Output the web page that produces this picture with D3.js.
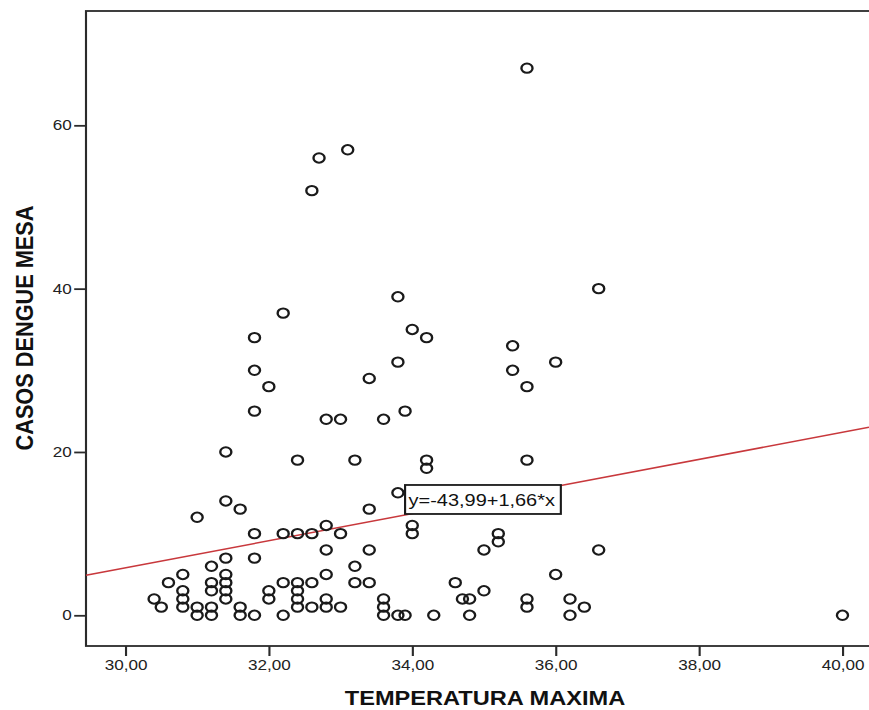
<!DOCTYPE html>
<html>
<head>
<meta charset="utf-8">
<script src="https://cdn.jsdelivr.net/npm/d3@7"></script>
<style>
  body { margin: 0; background: #fff; }
  text { font-family: "Liberation Sans", Arial, sans-serif; }
</style>
</head>
<body>
<div id="plot-box"></div>
<script>
// data (temperature max, dengue cases per month)
const temperatura = [
  30.4, 30.5, 30.6,
  30.8, 30.8, 30.8, 30.8,
  31.0, 31.0, 31.0,
  31.2, 31.2, 31.2, 31.2, 31.2,
  31.4, 31.4, 31.4, 31.4, 31.4, 31.4, 31.4,
  31.6, 31.6, 31.6,
  31.8, 31.8, 31.8, 31.8, 31.8, 31.8,
  32.0, 32.0, 32.0,
  32.2, 32.2, 32.2, 32.2,
  32.4, 32.4, 32.4, 32.4, 32.4, 32.4,
  32.6, 32.6, 32.6, 32.6,
  32.7,
  32.8, 32.8, 32.8, 32.8, 32.8, 32.8,
  33.0, 33.0, 33.0,
  33.1,
  33.2, 33.2, 33.2,
  33.4, 33.4, 33.4, 33.4,
  33.6, 33.6, 33.6, 33.6,
  33.8, 33.8, 33.8, 33.8,
  33.9, 33.9,
  34.0, 34.0, 34.0,
  34.2, 34.2, 34.2,
  34.3, 34.6, 34.7,
  34.8, 34.8,
  35.0, 35.0,
  35.2, 35.2,
  35.4, 35.4,
  35.6, 35.6, 35.6, 35.6, 35.6,
  36.0, 36.0,
  36.2, 36.2,
  36.4,
  36.6, 36.6,
  40.0
];
const casos = [
  2, 1, 4,
  5, 3, 2, 1,
  12, 1, 0,
  6, 4, 3, 1, 0,
  20, 14, 7, 5, 4, 3, 2,
  13, 1, 0,
  34, 30, 25, 10, 7, 0,
  28, 3, 2,
  37, 10, 4, 0,
  19, 10, 4, 3, 2, 1,
  52, 10, 4, 1,
  56,
  24, 11, 8, 5, 2, 1,
  24, 10, 1,
  57,
  19, 6, 4,
  29, 13, 8, 4,
  24, 2, 1, 0,
  39, 31, 15, 0,
  25, 0,
  35, 11, 10,
  34, 19, 18,
  0, 4, 2,
  2, 0,
  8, 3,
  10, 9,
  33, 30,
  67, 28, 19, 2, 1,
  31, 5,
  2, 0,
  1,
  40, 8,
  0
];
const xTicks = [30, 32, 34, 36, 38, 40];
const yTicks = [0, 20, 40, 60];
const intercept = -43.99, slope = 1.66;
const fitLabel = "y=-43,99+1,66*x";
const xTitle = "TEMPERATURA MAXIMA";
const yTitle = "CASOS DENGUE MESA";

const W = 869, H = 710;
const sx = 1.18; // the picture is stretched sideways
const frame = {left: 86 / sx, top: 11, bottom: 646, right: 880 / sx};

const svgRoot = d3.select("#plot-box").append("svg")
  .attr("width", W).attr("height", H);
const svg = svgRoot.append("g").attr("transform", `scale(${sx},1)`);

const x = d3.scaleLinear().domain([29.45, 40.37]).range([frame.left, W / sx]);
const y = d3.scaleLinear().domain([-3.76, 74]).range([frame.bottom, frame.top]);

const es = d3.formatLocale({decimal: ",", thousands: ".", grouping: [3], currency: ["", ""]});
const fmt = es.format(".2f");

// frame
svg.append("rect")
  .attr("x", frame.left).attr("y", frame.top)
  .attr("width", frame.right - frame.left).attr("height", frame.bottom - frame.top)
  .attr("fill", "none").attr("stroke", "#2b2b2b").attr("stroke-width", 1.8);

// axes
const gx = svg.append("g")
  .attr("transform", `translate(0,${frame.bottom})`)
  .call(d3.axisBottom(x).tickValues(xTicks).tickFormat(fmt).tickSize(10).tickPadding(4));
const gy = svg.append("g")
  .attr("transform", `translate(${frame.left},0)`)
  .call(d3.axisLeft(y).tickValues(yTicks).tickSize(10).tickPadding(2));
[gx, gy].forEach(g => {
  g.select(".domain").remove();
  g.selectAll(".tick line").attr("stroke", "#2b2b2b").attr("stroke-width", 1.8);
  g.selectAll(".tick text").attr("fill", "#222").style("font-size", "14.5px")
    .style("font-family", "'Liberation Sans', Arial, sans-serif");
});

// regression line
const fit = v => intercept + slope * v;
const xd = x.domain();
svg.append("line")
  .attr("x1", x(xd[0])).attr("y1", y(fit(xd[0])))
  .attr("x2", x(xd[1])).attr("y2", y(fit(xd[1])))
  .attr("stroke", "#c8383c").attr("stroke-width", 1.5);

// points
const points = temperatura.map((t, i) => ({t, c: casos[i]}));
svg.append("g").selectAll("circle")
  .data(points)
  .enter().append("circle")
  .attr("cx", d => x(d.t))
  .attr("cy", d => y(d.c))
  .attr("r", 4.7)
  .attr("fill", "none")
  .attr("stroke", "#1a1a1a")
  .attr("stroke-width", 2);

// equation label anchored on the fit line
const lx = 33.9;
const lab = svg.append("g")
  .attr("transform", `translate(${x(lx)},${y(fit(lx)) - 1})`);
lab.append("rect")
  .attr("x", 0).attr("y", -29).attr("width", 132).attr("height", 29)
  .attr("fill", "#fff").attr("stroke", "#1a1a1a").attr("stroke-width", 1.8);
lab.append("text")
  .attr("x", 3).attr("y", -8)
  .attr("textLength", 124).attr("lengthAdjust", "spacingAndGlyphs")
  .style("font-size", "16px").attr("fill", "#111")
  .text(fitLabel);

// axis titles
svg.append("text")
  .attr("x", 485 / sx).attr("y", 705)
  .attr("text-anchor", "middle")
  .style("font-size", "20px").style("font-weight", "bold").attr("fill", "#111")
  .text(xTitle);
svg.append("text")
  .attr("transform", `translate(${33 / sx},${328})rotate(-90)`)
  .attr("text-anchor", "middle")
  .attr("textLength", 245).attr("lengthAdjust", "spacingAndGlyphs")
  .style("font-size", "20px").style("font-weight", "bold").attr("fill", "#111")
  .text(yTitle);
</script>
</body>
</html>
